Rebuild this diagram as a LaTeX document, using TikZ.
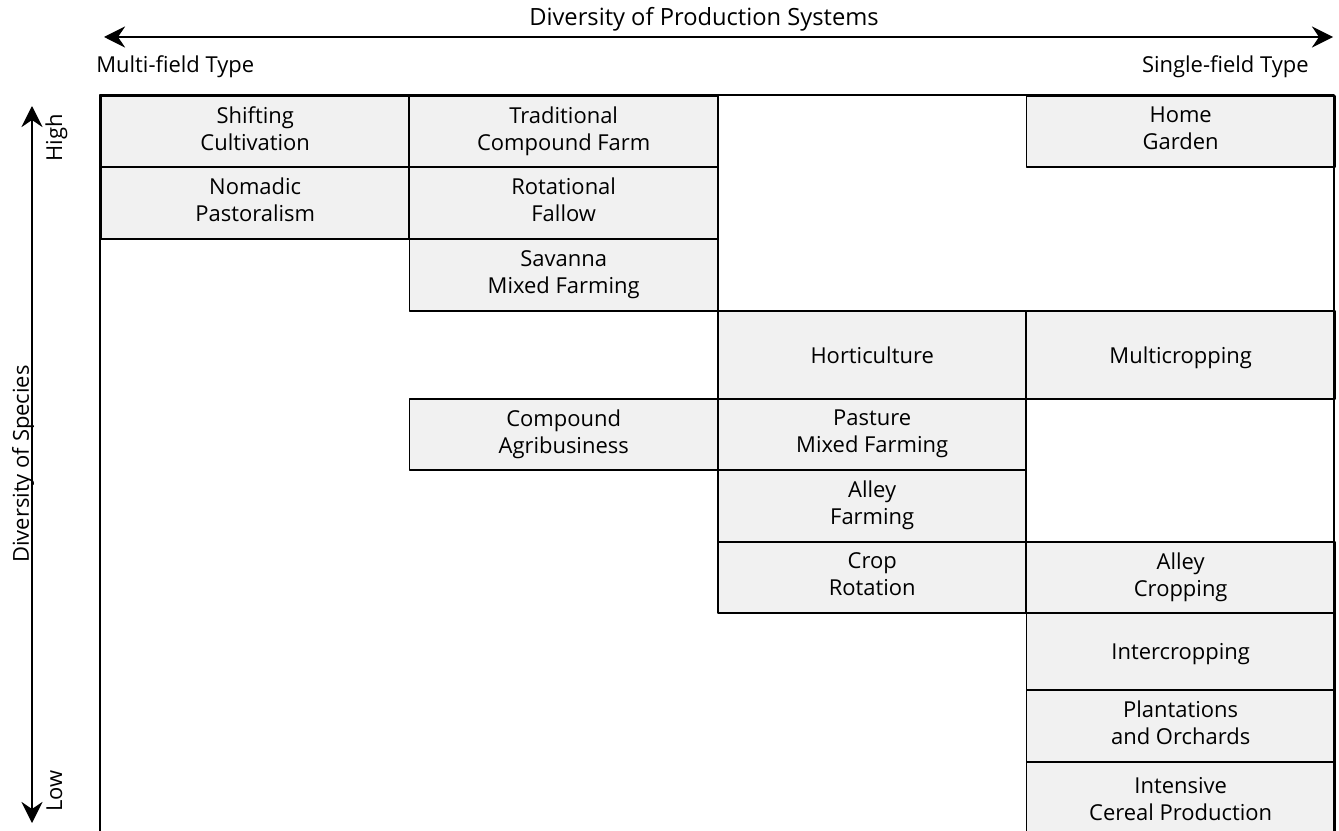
\documentclass[tikz,border=0pt]{standalone}
\usepackage{fontspec}
\setmainfont{Open Sans}
\usetikzlibrary{arrows.meta}
\definecolor{cellgray}{RGB}{241,241,241}
\tikzset{
  cell/.style={draw,line width=1.1pt,fill=cellgray,align=center,inner sep=0pt,
    anchor=north west,minimum width=6.17cm,
    execute at begin node={\rule{0pt}{12.6pt}},execute at end node={\rule[-3.4pt]{0pt}{0pt}}},
  axis/.style={line width=1.1pt,{Stealth[length=12pt,width=12pt,inset=4pt]}-{Stealth[length=12pt,width=12pt,inset=4pt]}},
  lbl/.style={inner sep=0pt}
}
\begin{document}
\begin{tikzpicture}[x=0.02cm,y=-0.02cm,line join=round,font=\fontsize{12.5pt}{15.3pt}\selectfont]
	\useasboundingbox (0,0) rectangle (1339,831);
	%Các ô hệ thống 
	\foreach \n/\x/\y/\h/\t in {
		shift/100/95/1.42/{Shifting\\Cultivation},
		trad/408.5/95/1.42/{Traditional\\Compound Farm},
		home/1025.5/95/1.42/{Home\\Garden},
		nomad/100/166/1.44/{Nomadic\\Pastoralism},
		rotat/408.5/166/1.44/{Rotational\\Fallow},
		savan/408.5/238/1.44/{Savanna\\Mixed Farming},
		horti/717/310/1.76/{Horticulture},
		multi/1025.5/310/1.76/{Multicropping},
		compo/408.5/398/1.42/{Compound\\Agribusiness},
		pastu/717/398/1.42/{Pasture\\Mixed Farming},
		alleyf/717/469/1.44/{Alley\\Farming},
		cropr/717/541/1.42/{Crop\\Rotation},
		alleyc/1025.5/541/1.42/{Alley\\Cropping},
		inter/1025.5/612/1.54/{Intercropping},
		plant/1025.5/689/1.44/{Plantations\\and Orchards},
		inten/1025.5/761/1.6/{Intensive\\Cereal Production}}
		\node[cell,minimum height=\h cm] (\n) at (\x,\y) {\t};
	%Khung ngoài 
	\draw[line width=1.1pt] (100,845) |- (1334,95) -- (1334,845);
	%Trục ngang 
	\coordinate (xl) at (104,37);
	\coordinate (xr) at (1333,37);
	\draw[axis] (xl) -- (xr);
	\node[lbl,anchor=base,font=\fontsize{13.5pt}{16pt}\selectfont] (xtitle) at (704,26) {Diversity of Production Systems};
	\node[lbl,anchor=base west] (multif) at (96,73) {Multi-field Type};
	\node[lbl,anchor=base east] (singlef) at (1309,73) {Single-field Type};
	%Trục dọc 
	\coordinate (yt) at (32,106);
	\coordinate (yb) at (32,823);
	\draw[axis] (yb) -- (yt);
	\node[lbl,rotate=90,anchor=base] (ytitle) at (29,464) {Diversity of Species};
	\node[lbl,rotate=90,anchor=base west] (high) at (62,162) {High};
	\node[lbl,rotate=90,anchor=base west] (low) at (62,812) {Low};
\end{tikzpicture}
\end{document}
